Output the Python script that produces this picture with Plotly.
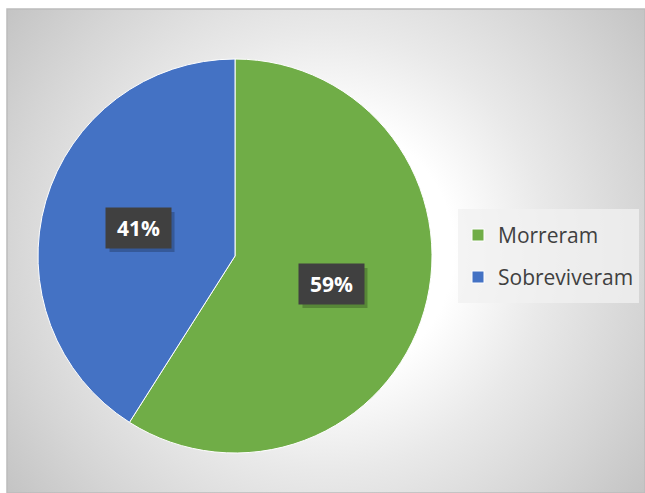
import math
import plotly.graph_objects as go

# ---------------- data ----------------
labels = ["Morreram", "Sobreviveram"]
values = [59, 41]
colors = ["#70AD47", "#4472C4"]
pct_labels = ["59%", "41%"]

# ---------------- geometry (pixels) ----------------
W, H = 645, 493
ML, MT = 7, 9
PW, PH = W - ML, H - MT
pie_cx, pie_cy, pie_r = 235, 256, 197
dom_x = [(pie_cx - pie_r - ML) / PW, (pie_cx + pie_r - ML) / PW]
dom_y = [(H - pie_cy - pie_r) / PH, (H - pie_cy + pie_r) / PH]

FONT = "Open Sans, Noto Sans, sans-serif"

fig = go.Figure()

# radial gradient background (Excel-like chart area fill)
gcx, gcy, gR = 326 - ML, H - 251, 400
fig.add_trace(go.Scatter(
    x=[gcx - gR, gcx + gR, gcx + gR, gcx - gR, gcx - gR],
    y=[gcy - gR, gcy - gR, gcy + gR, gcy + gR, gcy - gR],
    mode="lines", line=dict(width=0), fill="toself",
    fillgradient=dict(type="radial", colorscale=[
        [0, "#ffffff"], [0.32, "#ffffff"], [0.55, "#e9e9e9"],
        [0.8, "#d5d5d5"], [1, "#c4c4c4"]]),
    hoverinfo="skip", showlegend=False,
))

legend_labels = [f"<span style='font-size:21px;baseline-shift:4.5px'>{l}</span>" for l in labels]

fig.add_trace(go.Pie(
    labels=legend_labels, values=values, sort=False, direction="clockwise",
    rotation=0, domain=dict(x=dom_x, y=dom_y),
    marker=dict(colors=colors, line=dict(color="#ffffff", width=1)),
    textinfo="none", hoverinfo="skip", showlegend=True,
))

# percentage label boxes at slice mid-angles
total = sum(values)
cum = 0
r_lab = 0.51 * pie_r
for v, t in zip(values, pct_labels):
    theta = 2 * math.pi * (cum + v / 2) / total
    cum += v
    ax = pie_cx - ML + r_lab * math.sin(theta)
    ay = (H - pie_cy) + r_lab * math.cos(theta)
    # soft shadow behind the label box
    fig.add_shape(type="rect", xref="x", yref="y", layer="above",
                  xsizemode="pixel", ysizemode="pixel", xanchor=ax, yanchor=ay,
                  x0=-29, x1=36, y0=-24, y1=16,
                  fillcolor="rgba(0,0,0,0.22)", line=dict(width=0))
    fig.add_annotation(x=ax, y=ay, xref="x", yref="y", text=f"<b>{t}</b>",
                       showarrow=False,
                       font=dict(family=FONT, size=21, color="#ffffff"),
                       bgcolor="#404040", width=63, height=38, borderpad=1)

# chart area border
fig.add_shape(type="rect", xref="paper", yref="paper", x0=0, x1=1, y0=0, y1=1,
              line=dict(color="#bcbcbc", width=1.5), fillcolor="rgba(0,0,0,0)")

fig.update_layout(
    width=W, height=H,
    margin=dict(l=ML, t=MT, r=0, b=0, pad=0),
    paper_bgcolor="#ffffff", plot_bgcolor="rgba(0,0,0,0)",
    xaxis=dict(range=[0, PW], visible=False, fixedrange=True),
    yaxis=dict(range=[0, PH], visible=False, fixedrange=True),
    showlegend=True,
    legend=dict(
        x=(458 - ML) / PW, y=(H - 209) / PH, xanchor="left", yanchor="top",
        bgcolor="rgba(241,241,241,0.77)", borderwidth=0,
        font=dict(family=FONT, size=30, color="#404040"),
        itemwidth=30,
    ),
)

fig.write_html("out.html")
